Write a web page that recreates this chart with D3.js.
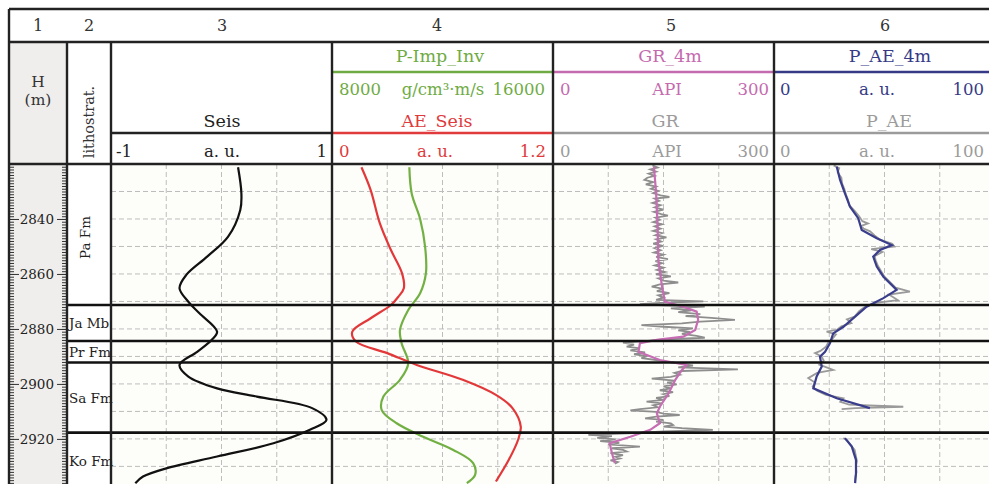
<!DOCTYPE html>
<html>
<head>
<meta charset="utf-8">
<script src="https://cdn.jsdelivr.net/npm/d3@7"></script>
<style>
  body { margin: 0; background: #fff; }
  svg text { font-family: "DejaVu Serif", serif; }
</style>
</head>
<body>
<div id="chart"></div>
<script>
const width = 989
const height = 484

// ---- data (depth in m, value in track units) ----
const colNumbers = ["1", "2", "3", "4", "5", "6"]
const depthTicks = [2840, 2860, 2880, 2900, 2920]
const gridDepths = [2830, 2840, 2850, 2860, 2870, 2880, 2890, 2900, 2910, 2920, 2930]

const formations = [
    { name: "Pa Fm", top: 2820, base: 2871.3 },
    { name: "Ja Mb", top: 2871.3, base: 2884.4 },
    { name: "Pr Fm", top: 2884.4, base: 2892.2 },
    { name: "Sa Fm", top: 2892.2, base: 2917.7 },
    { name: "Ko Fm", top: 2917.7, base: 2940 }
]

const seis = [
    [2821.2, 0.15], [2830.7, 0.18], [2836.7, 0.17], [2846.4, 0.06], [2853.7, -0.13],
    [2860.4, -0.32], [2865.2, -0.38], [2870.1, -0.30], [2874.3, -0.20], [2881.0, -0.04],
    [2884.0, -0.09], [2888.3, -0.22], [2893.1, -0.38], [2897.3, -0.30], [2901.6, -0.04],
    [2904.6, 0.32], [2908.8, 0.82], [2913.1, 0.95], [2916.7, 0.80], [2921.6, 0.47],
    [2926.4, -0.04], [2930.7, -0.50], [2933.7, -0.71], [2936.1, -0.78]
]

const pImpInv = [
    [2821.2, 10800], [2830.7, 10885], [2840.0, 11190], [2850.1, 11370], [2859.7, 11400],
    [2867.0, 11190], [2873.1, 10760], [2880.4, 10460], [2885.2, 10520], [2892.5, 10760],
    [2898.5, 10460], [2904.6, 9860], [2909.5, 9800], [2914.3, 10340], [2919.2, 11300],
    [2924.0, 12390], [2928.8, 13110], [2933.1, 13180], [2936.1, 12880]
]

const aeSeis = [
    [2821.2, 0.16], [2829.5, 0.21], [2841.6, 0.26], [2851.3, 0.32], [2859.7, 0.38],
    [2865.2, 0.39], [2868.3, 0.36], [2871.3, 0.32], [2876.1, 0.21], [2881.0, 0.11],
    [2884.6, 0.13], [2888.8, 0.30], [2893.1, 0.46], [2898.5, 0.71], [2904.0, 0.89],
    [2908.8, 0.98], [2915.5, 1.025], [2920.4, 1.01], [2927.6, 0.96], [2935.5, 0.89]
]

const grRaw = [
    [2820.5, 135], [2821.3, 142], [2822.0, 132], [2822.8, 140], [2823.5, 130], [2824.3, 138],
    [2825.0, 128], [2825.8, 124], [2826.6, 136], [2827.4, 126], [2828.2, 140], [2829.0, 133],
    [2829.8, 143], [2830.6, 136], [2831.4, 146], [2832.0, 158], [2832.6, 138], [2833.4, 144],
    [2834.2, 135], [2835.0, 146], [2835.8, 138], [2836.6, 150], [2837.4, 137], [2838.2, 147],
    [2838.8, 156], [2839.5, 139], [2840.3, 145], [2841.1, 136], [2841.9, 148], [2842.7, 138],
    [2843.5, 146], [2844.3, 136], [2845.1, 148], [2845.9, 139], [2846.7, 154], [2847.4, 140],
    [2848.2, 147], [2849.0, 136], [2849.8, 149], [2850.6, 138], [2851.4, 146], [2852.2, 137],
    [2853.0, 150], [2853.8, 140], [2854.6, 156], [2855.3, 139], [2856.1, 148], [2856.9, 138],
    [2857.7, 150], [2858.5, 141], [2859.3, 152], [2860.1, 140], [2860.9, 160], [2861.6, 143],
    [2862.4, 150], [2863.1, 170], [2863.8, 145], [2864.6, 134], [2865.4, 150], [2866.2, 141],
    [2867.0, 158], [2867.8, 143], [2868.6, 150], [2869.4, 140], [2870.0, 204], [2870.5, 146],
    [2871.0, 118], [2871.4, 150], [2871.9, 206], [2872.5, 160], [2873.2, 188], [2873.9, 170],
    [2874.6, 200], [2875.3, 180], [2876.0, 215], [2876.7, 247], [2877.3, 200], [2878.0, 175],
    [2878.6, 120], [2879.2, 150], [2879.8, 190], [2880.5, 170], [2881.1, 186], [2881.8, 175],
    [2882.5, 195], [2883.2, 206], [2883.8, 150], [2884.4, 125], [2885.0, 95], [2885.7, 110],
    [2886.4, 100], [2887.1, 118], [2887.8, 105], [2888.5, 125], [2889.2, 110], [2889.9, 128],
    [2890.6, 120], [2891.3, 140], [2892.0, 155], [2892.6, 175], [2893.3, 190], [2894.0, 170],
    [2894.7, 251], [2895.3, 175], [2896.0, 165], [2896.7, 172], [2897.4, 160], [2898.1, 134],
    [2898.8, 165], [2899.5, 155], [2900.2, 168], [2900.9, 150], [2901.6, 160], [2902.3, 145],
    [2903.0, 163], [2903.7, 150], [2904.4, 158], [2905.1, 140], [2905.8, 150], [2906.4, 127],
    [2907.1, 148], [2907.8, 136], [2908.5, 142], [2909.2, 118], [2909.6, 105], [2910.2, 140],
    [2910.8, 150], [2911.3, 172], [2911.9, 140], [2912.5, 125], [2913.1, 150], [2913.7, 140],
    [2914.3, 160], [2914.9, 163], [2915.5, 150], [2916.1, 175], [2916.7, 217], [2917.3, 150],
    [2917.9, 110], [2918.5, 48], [2919.0, 80], [2919.6, 60], [2920.2, 85], [2920.8, 64],
    [2921.4, 90], [2922.0, 75], [2922.8, 118], [2923.4, 80], [2924.0, 95], [2924.6, 100],
    [2925.2, 78], [2925.9, 95], [2926.5, 85], [2927.1, 91], [2927.8, 78], [2928.4, 88], [2929.0, 84]
]

const gr4m = [
    [2821.0, 137], [2830.7, 140], [2842.8, 142], [2854.9, 143], [2864.6, 148], [2870.1, 152],
    [2871.9, 177], [2873.7, 195], [2876.7, 197], [2880.4, 193], [2882.8, 177], [2884.0, 141],
    [2885.2, 118], [2888.3, 116], [2891.3, 145], [2893.1, 181], [2894.9, 175], [2898.5, 166],
    [2903.4, 157], [2908.3, 145], [2910.7, 141], [2914.3, 145], [2916.7, 132], [2919.2, 105],
    [2921.6, 77], [2925.2, 80], [2928.8, 84]
]

const paeRaw = [
    [2820.5, 27.0], [2821.5, 29.5], [2823, 28.8], [2825, 30.5], [2827, 30.8], [2829, 31.8],
    [2831, 32.5], [2833, 33.5], [2835, 34.0], [2837, 36.5], [2839, 38.5], [2840.8, 40.0],
    [2841.6, 42.5], [2842.5, 39.5], [2843.5, 40.5], [2844.5, 43.5], [2846, 45.5], [2847.5, 48.0],
    [2849, 53.5], [2850, 54.5], [2851, 44.0], [2852, 49.0], [2853.5, 45.5], [2855, 46.0],
    [2857, 47.0], [2859, 48.5], [2861, 50.0], [2863, 52.5], [2865, 55.0], [2866.4, 61.5],
    [2867.5, 52.0], [2869.5, 56.0], [2870.5, 46.0], [2872, 41.0], [2873.5, 38.5], [2875.5, 36.5],
    [2876.5, 33.0], [2877.9, 35.0], [2879, 30.5], [2880.3, 28.5], [2881, 23.8], [2882, 28.0],
    [2883.5, 26.5], [2885, 24.5], [2886.5, 23.5], [2888, 21.0], [2888.8, 18.6], [2890, 21.5],
    [2891.5, 22.5], [2893, 20.5], [2894.9, 26.8], [2896, 19.5], [2897.9, 15.5], [2899.5, 18.5],
    [2901, 17.5], [2902.5, 19.5], [2904, 23.5], [2905.2, 31.4], [2906.5, 30.0], [2907.5, 34.0],
    [2908.3, 58.5], [2908.8, 37.0], [2909.2, 30.6], [2914, null],
    [2919.7, 31.4], [2920.5, 33.0], [2922, 34.5], [2924, 36.5], [2926, 37.0], [2928, 37.5],
    [2930, 37.0], [2932, 37.3], [2934, 36.8], [2936, 36.6]
]

const pae4m = [
    [2821.0, 28.4], [2825.8, 29.9], [2830.7, 32.1], [2835.5, 34.4], [2839.7, 38.1], [2844.0, 39.7],
    [2847.0, 46.5], [2849.5, 53.3], [2851.3, 48.0], [2853.7, 44.9], [2857.3, 46.5], [2861.0, 49.5],
    [2865.8, 55.5], [2868.8, 49.5], [2871.9, 41.9], [2875.5, 36.7], [2879.2, 31.4], [2881.6, 26.8],
    [2885.2, 25.3], [2888.3, 23.1], [2890.1, 20.8], [2893.7, 21.6], [2897.3, 19.3], [2901.6, 17.8],
    [2905.2, 28.4], [2908.8, 43.4], [2914, null],
    [2919.7, 32.1], [2922.8, 35.2], [2927.6, 37.1], [2932.5, 37.1], [2936.1, 36.7]
]

// ---- layout ----
const frame = { left: 9, top: 9, row1: 42, head: 164 }
const colX = { h: 9, lith: 67, t3: 111, t4: 332, t5: 553, t6: 774, end: 995 }

const svg = d3.select("#chart").append("svg").attr("width", width).attr("height", height)

const y = d3.scaleLinear().domain([2820, 2936.4]).range([frame.head, 484])
const xSeis = d3.scaleLinear().domain([-1, 1]).range([colX.t3, colX.t4])
const xImp = d3.scaleLinear().domain([8000, 16000]).range([colX.t4, colX.t5])
const xAE = d3.scaleLinear().domain([0, 1.2]).range([colX.t4, colX.t5])
const xGR = d3.scaleLinear().domain([0, 300]).range([colX.t5, colX.t6])
const xPAE = d3.scaleLinear().domain([0, 100]).range([colX.t6, colX.end])

// backgrounds
svg.append("rect").attr("x", colX.h).attr("y", frame.row1).attr("width", colX.lith - colX.h)
    .attr("height", height - frame.row1).attr("fill", "#efeeec")
svg.append("rect").attr("x", colX.t3).attr("y", frame.head).attr("width", width - colX.t3)
    .attr("height", height - frame.head).attr("fill", "#fdfdf9")

// grid
const grid = svg.append("g").attr("stroke", "#bdbdbd").attr("stroke-width", 1).attr("stroke-dasharray", "5,3")
grid.selectAll("line.h").data(gridDepths).enter().append("line")
    .attr("x1", colX.t3).attr("x2", width).attr("y1", d => y(d)).attr("y2", d => y(d))
const vgrid = [[xSeis, [-0.5, 0, 0.5]], [xAE, [0.3, 0.6, 0.9]], [xGR, [75, 150, 225]], [xPAE, [25, 50, 75]]]
vgrid.forEach(([sc, vals]) => {
    grid.selectAll(null).data(vals).enter().append("line")
        .attr("x1", d => sc(d)).attr("x2", d => sc(d)).attr("y1", frame.head).attr("y2", height)
})

// curves
svg.append("clipPath").attr("id", "trk").append("rect")
    .attr("x", colX.t3).attr("y", frame.head).attr("width", width - colX.t3).attr("height", height - frame.head)
const curves = svg.append("g").attr("clip-path", "url(#trk)").attr("fill", "none")

const mkLine = (sc, curve) => d3.line().defined(d => d[1] !== null)
    .x(d => sc(d[1])).y(d => y(d[0])).curve(curve)

curves.append("path").datum(seis).attr("d", mkLine(xSeis, d3.curveCatmullRom.alpha(0.5)))
    .attr("stroke", "#111").attr("stroke-width", 2.2)
curves.append("path").datum(pImpInv).attr("d", mkLine(xImp, d3.curveCatmullRom.alpha(0.5)))
    .attr("stroke", "#72b043").attr("stroke-width", 2.2)
curves.append("path").datum(aeSeis).attr("d", mkLine(xAE, d3.curveCatmullRom.alpha(0.5)))
    .attr("stroke", "#e2383a").attr("stroke-width", 2.2)
curves.append("path").datum(grRaw).attr("d", mkLine(xGR, d3.curveLinear))
    .attr("stroke", "#8e8e8e").attr("stroke-width", 1.8)
curves.append("path").datum(gr4m).attr("d", mkLine(xGR, d3.curveLinear))
    .attr("stroke", "#c66db3").attr("stroke-width", 2.2)
curves.append("path").datum(paeRaw).attr("d", mkLine(xPAE, d3.curveLinear))
    .attr("stroke", "#9a9a9a").attr("stroke-width", 1.8)
curves.append("path").datum(pae4m).attr("d", mkLine(xPAE, d3.curveLinear))
    .attr("stroke", "#3a3d8c").attr("stroke-width", 2.2)

// formation boundaries
svg.selectAll("line.fm").data(formations.slice(0, 4)).enter().append("line")
    .attr("x1", colX.lith).attr("x2", width).attr("y1", d => y(d.base)).attr("y2", d => y(d.base))
    .attr("stroke", "#111").attr("stroke-width", 2.6)

// depth axis
const axStyle = g => {
    g.select(".domain").remove()
    g.selectAll("line").attr("stroke", "#333")
    g.attr("font-family", "DejaVu Serif").attr("font-size", 13.5)
    g.selectAll("text").attr("fill", "#222")
}
const minorTicks = d3.range(2821, 2937)
svg.append("g").attr("transform", `translate(${colX.h},0)`)
    .call(d3.axisRight(y).tickValues(minorTicks).tickSize(5).tickFormat("")).call(axStyle)
svg.append("g").attr("transform", `translate(${colX.lith},0)`)
    .call(d3.axisLeft(y).tickValues(minorTicks).tickSize(5).tickFormat("")).call(axStyle)
svg.append("g").attr("transform", `translate(${colX.h},0)`)
    .call(d3.axisRight(y).tickValues(depthTicks).tickSize(10).tickFormat("")).call(axStyle)
svg.append("g").attr("transform", `translate(${colX.lith},0)`)
    .call(d3.axisLeft(y).tickValues(depthTicks).tickSize(10).tickPadding(3).tickFormat(d3.format("d")))
    .call(axStyle)

// lithostrat labels
svg.selectAll("text.fm").data(formations).enter().append("text")
    .attr("font-size", 13.5).attr("fill", "#222")
    .attr("transform", (d, i) => {
        const mid = y((d.top + d.base) / 2)
        return i === 0 ? `translate(90,${mid + 3}) rotate(-90)` : `translate(69,${Math.min(mid, 461) + 5})`
    })
    .attr("text-anchor", (d, i) => i === 0 ? "middle" : "start")
    .text(d => d.name)

// header texts
const numX = [38, 89, 222, 437, 671, 885]
svg.selectAll("text.num").data(colNumbers).enter().append("text")
    .attr("x", (d, i) => numX[i]).attr("y", 31).attr("text-anchor", "middle")
    .attr("font-size", 16).attr("fill", "#333").text(d => d)

const label = (x, yy, txt, color, anchor, size) => svg.append("text")
    .attr("x", x).attr("y", yy).attr("text-anchor", anchor || "middle")
    .attr("font-size", size || 17.5).attr("fill", color).text(txt)

label(38, 87, "H", "#333", "middle", 15.5)
label(38, 105, "(m)", "#333", "middle", 15.5)
svg.append("text").attr("transform", "translate(94,122) rotate(-90)").attr("text-anchor", "middle")
    .attr("font-size", 14.5).attr("fill", "#333").text("lithostrat.")

const green = "#6fab45", red = "#e03a3c", pink = "#c46aae", navy = "#363a86", grey = "#9b9b9b"
const sc = 16.5

// track 3
label(222, 127, "Seis", "#222")
label(colX.t3 + 5, 157, "-1", "#222", "start", sc)
label(222, 157, "a. u.", "#222", "middle", sc)
label(colX.t4 - 5, 157, "1", "#222", "end", sc)

// track 4
label(440, 62, "P-Imp_Inv", green)
label(colX.t4 + 7, 95, "8000", green, "start", sc)
label(443, 95, "g/cm³·m/s", green, "middle", sc)
label(colX.t5 - 8, 95, "16000", green, "end", sc)
label(437, 127, "AE_Seis", red)
label(colX.t4 + 7, 157, "0", red, "start", sc)
label(435, 157, "a. u.", red, "middle", sc)
label(colX.t5 - 7, 157, "1.2", red, "end", sc)

// track 5
label(670, 62, "GR_4m", pink)
label(colX.t5 + 7, 95, "0", pink, "start", sc)
label(667, 95, "API", pink, "middle", sc)
label(colX.t6 - 5, 95, "300", pink, "end", sc)
label(665, 127, "GR", grey)
label(colX.t5 + 7, 157, "0", grey, "start", sc)
label(667, 157, "API", grey, "middle", sc)
label(colX.t6 - 5, 157, "300", grey, "end", sc)

// track 6
label(890, 62, "P_AE_4m", navy)
label(colX.t6 + 6, 95, "0", navy, "start", sc)
label(877, 95, "a. u.", navy, "middle", sc)
label(colX.end - 11, 95, "100", navy, "end", sc)
label(889, 127, "P_AE", grey)
label(colX.t6 + 6, 157, "0", grey, "start", sc)
label(877, 157, "a. u.", grey, "middle", sc)
label(colX.end - 11, 157, "100", grey, "end", sc)

// header underlines per curve
const hl = (x1, x2, yy, color) => svg.append("line").attr("x1", x1).attr("x2", x2)
    .attr("y1", yy).attr("y2", yy).attr("stroke", color).attr("stroke-width", 2.5)
hl(colX.t3, colX.t4, 133, "#222")
hl(colX.t4, colX.t5, 72, green)
hl(colX.t4, colX.t5, 133, red)
hl(colX.t5, colX.t6, 72, pink)
hl(colX.t5, colX.t6, 133, grey)
hl(colX.t6, colX.end, 72, navy)
hl(colX.t6, colX.end, 133, grey)

// frame
const frameG = svg.append("g").attr("stroke", "#222").attr("stroke-width", 2.4)
frameG.append("line").attr("x1", frame.left).attr("x2", width).attr("y1", frame.top).attr("y2", frame.top)
frameG.append("line").attr("x1", frame.left).attr("x2", width).attr("y1", frame.row1).attr("y2", frame.row1)
frameG.append("line").attr("x1", frame.left).attr("x2", width).attr("y1", frame.head).attr("y2", frame.head)
frameG.append("line").attr("x1", frame.left).attr("x2", frame.left).attr("y1", frame.top).attr("y2", height)
;[colX.lith, colX.t3, colX.t4, colX.t5, colX.t6].forEach(x => {
    frameG.append("line").attr("x1", x).attr("x2", x).attr("y1", frame.row1).attr("y2", height)
})
</script>
</body>
</html>
